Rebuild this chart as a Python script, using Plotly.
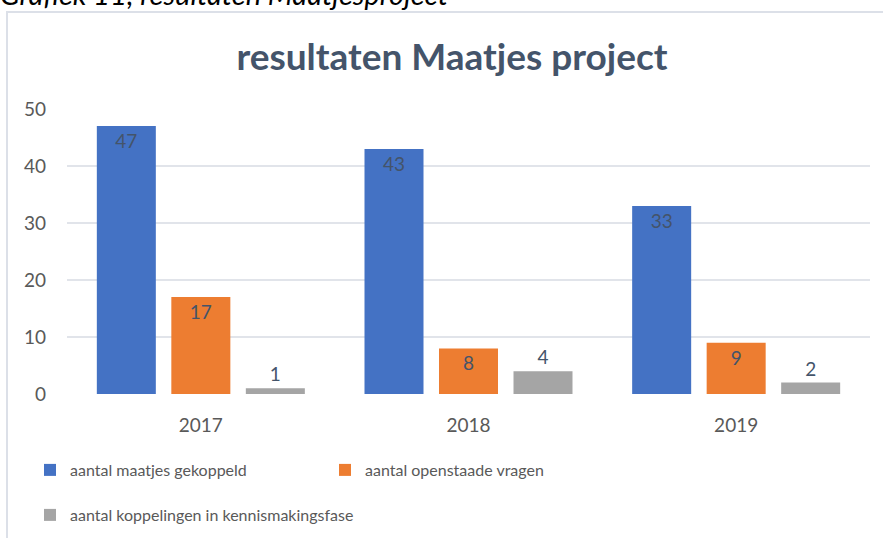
import plotly.graph_objects as go

years = ["2017", "2018", "2019"]
gekoppeld = [47, 43, 33]
openstaand = [17, 8, 9]
kennismaking = [1, 4, 2]

series_names = ["aantal maatjes gekoppeld", "aantal openstaade vragen",
                "aantal koppelingen in kennismakingsfase"]
title_text = "resultaten Maatjes project"
caption_text = "Grafiek 11, resultaten Maatjesproject"

W, H = 883, 538
L, R, T, B = 67, 13, 109, 144
PW, PH = W - L - R, H - T - B

def px(x):
    return (x - L) / PW

def py(y):
    return 1 - (y - T) / PH

FONT = "Lato"
TXT = "#595959"
LBL = "#44546A"

fig = go.Figure()
fig.add_trace(go.Bar(x=years, y=gekoppeld, name=series_names[0],
                     marker=dict(color="#4472C4", line=dict(width=0)),
                     text=gekoppeld, textposition="inside", insidetextanchor="end",
                     textfont=dict(size=19, color=LBL, family=FONT), legend="legend"))
fig.add_trace(go.Bar(x=years, y=openstaand, name=series_names[1],
                     marker=dict(color="#ED7D31", line=dict(width=0)),
                     text=openstaand, textposition="inside", insidetextanchor="end",
                     textfont=dict(size=19, color=LBL, family=FONT), legend="legend"))
fig.add_trace(go.Bar(x=years, y=kennismaking, name=series_names[2],
                     marker=dict(color="#A5A5A5", line=dict(width=0)),
                     text=kennismaking, textposition="outside",
                     textfont=dict(size=19, color=LBL, family=FONT), legend="legend2",
                     cliponaxis=False))

fig.update_layout(
    width=W, height=H,
    margin=dict(l=L, r=R, t=T, b=B, autoexpand=False),
    paper_bgcolor="white", plot_bgcolor="white",
    font=dict(family=FONT, color=TXT, size=16),
    barmode="group", bargap=0.165, bargroupgap=0.208,
    title=dict(text="<b>" + title_text + "</b>", xref="container", x=452 / W, xanchor="center",
               y=1 - 57 / H, yanchor="middle", font=dict(size=37, color="#44546A", family=FONT)),
    xaxis=dict(showgrid=False, zeroline=False, showline=False, ticks="",
               tickfont=dict(size=19, color=TXT), ticklabelstandoff=18),
    yaxis=dict(range=[0, 50], dtick=10, showgrid=True, gridcolor="#E1E4EA", gridwidth=2,
               zeroline=False, showline=False, ticks="", tickfont=dict(size=19, color=TXT),
               ticklabelstandoff=20),
    legend=dict(orientation="h", x=px(30), xanchor="left", y=py(470), yanchor="middle",
                font=dict(size=16, color=TXT), entrywidth=250, entrywidthmode="pixels",
                bgcolor="rgba(0,0,0,0)"),
    legend2=dict(orientation="h", x=px(30), xanchor="left", y=py(515), yanchor="middle",
                 font=dict(size=16, color=TXT), bgcolor="rgba(0,0,0,0)"),
    showlegend=True,
    shapes=[dict(type="path", xref="paper", yref="paper",
                 path=f"M {px(7)} {py(545)} L {px(7)} {py(12)} L {px(890)} {py(12)}",
                 line=dict(color="#DCE0E8", width=2), layer="below")],
    annotations=[dict(text="<i>" + caption_text + "</i>", xref="paper", yref="paper",
                      x=px(-2), xanchor="left", y=py(-7), yanchor="middle", showarrow=False,
                      font=dict(size=29, color="#000000", family=FONT))],
)

fig.write_html("out.html", config={"displayModeBar": False},
               post_script="document.body.style.margin='0';document.body.style.padding='0';")
